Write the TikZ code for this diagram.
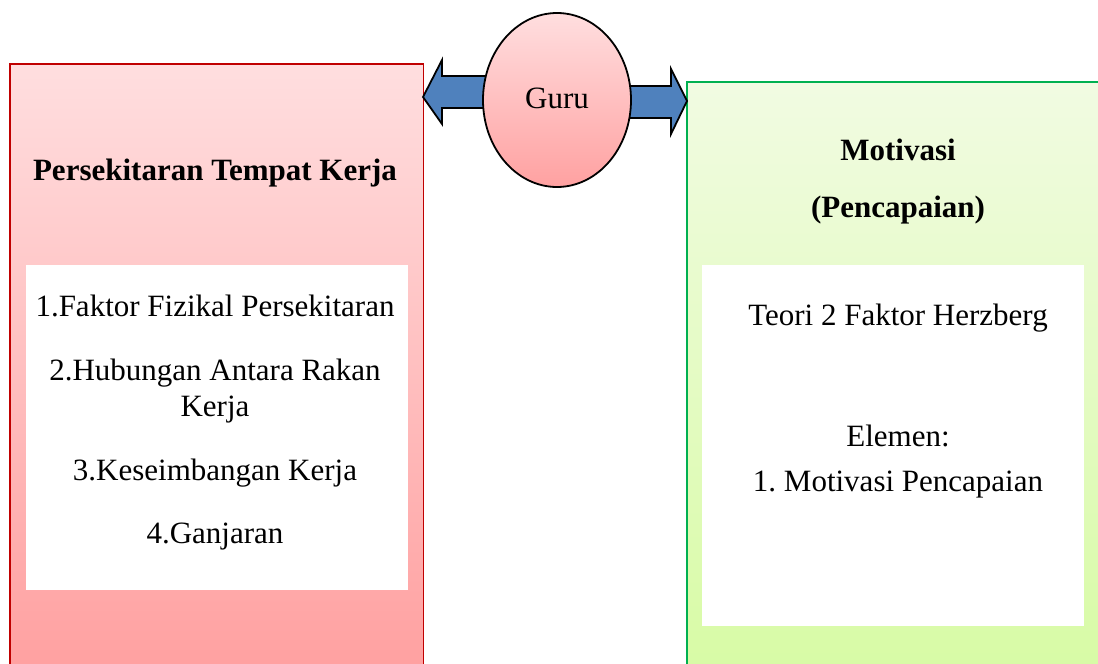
\documentclass[tikz,border=0pt]{standalone}
\usepackage{fontspec}
\setmainfont{Liberation Serif}
\frenchspacing
\usetikzlibrary{shapes.geometric}
\definecolor{redborder}{HTML}{C00000}
\definecolor{greenborder}{HTML}{00B050}
\definecolor{pinktop}{HTML}{FFDEDF}
\definecolor{pinkbot}{HTML}{FFA1A1}
\definecolor{greentop}{HTML}{F1FBE2}
\definecolor{greenbot}{HTML}{D8FBA6}
\definecolor{arrowblue}{HTML}{4F81BD}
\tikzset{
  txt/.style={font=\fontsize{31}{36}\selectfont, anchor=base, inner sep=0pt},
  btxt/.style={txt, font=\fontsize{31}{36}\selectfont\bfseries},
  blockarrow/.style={fill=arrowblue, draw=black, line width=1.8pt, line join=miter},
  innerbox/.style={fill=white, draw=none, anchor=north west, inner sep=0pt},
}
\begin{document}
\begin{tikzpicture}[x=1pt,y=1pt]
\useasboundingbox (0,0) rectangle (1098,-664);
% left box
\node[anchor=north west, minimum width=413, minimum height=600, inner sep=0pt,
      top color=pinktop, bottom color=pinkbot] (lbox) at (10,-64) {};
\draw[redborder, line width=1.6pt] (lbox.south west) -- (lbox.north west) -- (lbox.north east) -- (lbox.south east);
% right box (runs past the right edge of the picture)
\node[anchor=north west, minimum width=425, minimum height=582, inner sep=0pt,
      top color=greentop, bottom color=greenbot] (rbox) at (687,-82) {};
\draw[greenborder, line width=1.6pt] (rbox.south west) -- (rbox.north west) -- (rbox.north east);
% inner white boxes
\node[innerbox, minimum width=382, minimum height=325] (lin) at (26,-265) {};
\node[innerbox, minimum width=382, minimum height=361] (rin) at (702,-265) {};
% block arrows
\draw[blockarrow] (423,-97) -- (442,-60) -- (442,-76) -- (490,-76) -- (490,-108) -- (442,-108) -- (442,-124) -- cycle;
\draw[blockarrow] (687,-101) -- (671,-69) -- (671,-86) -- (625,-86) -- (625,-118) -- (671,-118) -- (671,-134) -- cycle;
% guru ellipse
\node[ellipse, minimum width=148, minimum height=174, inner sep=0pt,
      top color=pinktop, bottom color=pinkbot, draw=black, line width=1.8pt] (guru) at (557,-100) {};
\node[txt] (gurut) at (557,-108) {Guru};
% left texts
\node[btxt] (ltitle) at (215,-180) {Persekitaran Tempat Kerja};
\node[txt] (l1) at (215,-316) {1.Faktor Fizikal Persekitaran};
\node[txt] (l2a) at (215,-380) {2.Hubungan Antara Rakan};
\node[txt] (l2b) at (215,-416) {Kerja};
\node[txt] (l3) at (215,-480) {3.Keseimbangan Kerja};
\node[txt] (l4) at (215,-543) {4.Ganjaran};
% right texts
\node[btxt] (rtitle1) at (898,-160) {Motivasi};
\node[btxt] (rtitle2) at (898,-217) {(Pencapaian)};
\node[txt] (r1) at (898,-325) {Teori 2 Faktor Herzberg};
\node[txt] (r2) at (898,-446) {Elemen:};
\node[txt] (r3) at (898,-491) {1. Motivasi Pencapaian};
\end{tikzpicture}
\end{document}
